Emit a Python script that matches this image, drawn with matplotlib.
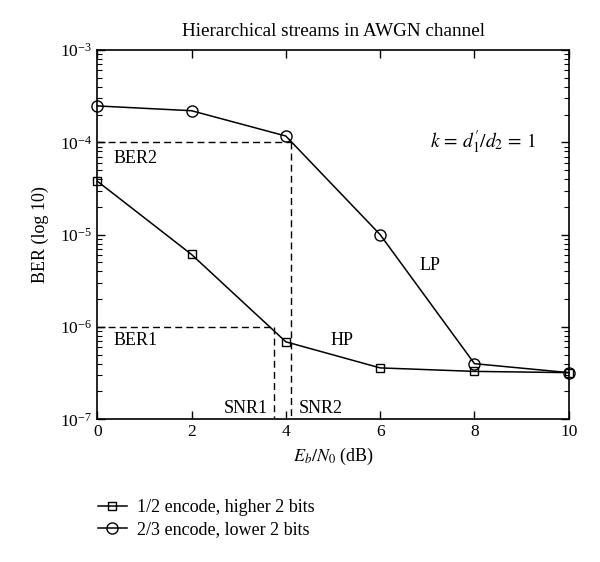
import matplotlib
matplotlib.use("Agg")
import matplotlib.pyplot as plt
from matplotlib.ticker import LogLocator, NullFormatter

plt.rcParams['font.family'] = ['Liberation Serif', 'DejaVu Serif']
plt.rcParams['mathtext.fontset'] = 'stix'

snr = [0, 2, 4, 6, 8, 10]
hp_ber = [3.8e-5, 6.1e-6, 6.9e-7, 3.6e-7, 3.3e-7, 3.2e-7]
lp_ber = [2.48e-4, 2.2e-4, 1.17e-4, 1.0e-5, 4.0e-7, 3.2e-7]
ber1, ber2 = 1e-6, 1e-4
snr1, snr2 = 3.75, 4.12

fig = plt.figure(figsize=(6, 5.62), dpi=100)
ax = fig.add_axes([0.162, 0.254, 0.786, 0.657])

ax.plot(snr, hp_ber, '-s', color='black', lw=1.1, ms=6, mfc='none', mew=1.0,
        label='1/2 encode, higher 2 bits', clip_on=False, zorder=3)
ax.plot(snr, lp_ber, '-o', color='black', lw=1.1, ms=8, mfc='none', mew=1.0,
        label='2/3 encode, lower 2 bits', clip_on=False, zorder=3)

ax.plot([0, snr2], [ber2, ber2], '--', color='black', lw=1.0, dashes=(5, 3))
ax.plot([snr2, snr2], [ber2, 1e-7], '--', color='black', lw=1.0, dashes=(5, 3))
ax.plot([0, snr1], [ber1, ber1], '--', color='black', lw=1.0, dashes=(5, 3))
ax.plot([snr1, snr1], [ber1, 1e-7], '--', color='black', lw=1.0, dashes=(5, 3))

ax.set_yscale('log')
ax.set_xlim(0, 10)
ax.set_ylim(1e-7, 1e-3)
ax.set_xticks(snr)
ax.yaxis.set_major_locator(LogLocator(base=10, numticks=10))
ax.yaxis.set_minor_locator(LogLocator(base=10, subs=range(2, 10), numticks=20))
ax.yaxis.set_minor_formatter(NullFormatter())
ax.tick_params(which='both', direction='in', top=True, right=True, labelsize=12.5)
ax.tick_params(which='major', length=6, width=1.0)
ax.tick_params(which='minor', length=3.5, width=0.8)
for s in ax.spines.values():
    s.set_linewidth(1.2)

ax.set_title('Hierarchical streams in AWGN channel', fontsize=13.8, pad=10)
ax.set_xlabel(r'$E_b/N_0$ (dB)', fontsize=13)
ax.set_ylabel('BER (log 10)', fontsize=13, labelpad=8)

fs = 13
ax.text(0.35, 10**-4.17, 'BER2', fontsize=fs, va='center', ha='left')
ax.text(0.35, 10**-6.15, 'BER1', fontsize=fs, va='center', ha='left')
ax.text(3.62, 10**-6.88, 'SNR1', fontsize=fs, va='center', ha='right')
ax.text(4.28, 10**-6.88, 'SNR2', fontsize=fs, va='center', ha='left')
ax.text(5.2, 10**-6.15, 'HP', fontsize=fs, va='center', ha='center')
ax.text(7.05, 10**-5.33, 'LP', fontsize=fs, va='center', ha='center')
ax.text(7.05, 1e-4, r"$k\,=\,d_1'/d_2\,=\,1$", fontsize=fs + 1, va='center', ha='left')

fig.legend(loc='upper left', bbox_to_anchor=(0.151, 0.125), frameon=False,
           fontsize=13, handlelength=1.6, handletextpad=0.55, labelspacing=0.3,
           borderaxespad=0)

fig.savefig('out.png', dpi=100)
